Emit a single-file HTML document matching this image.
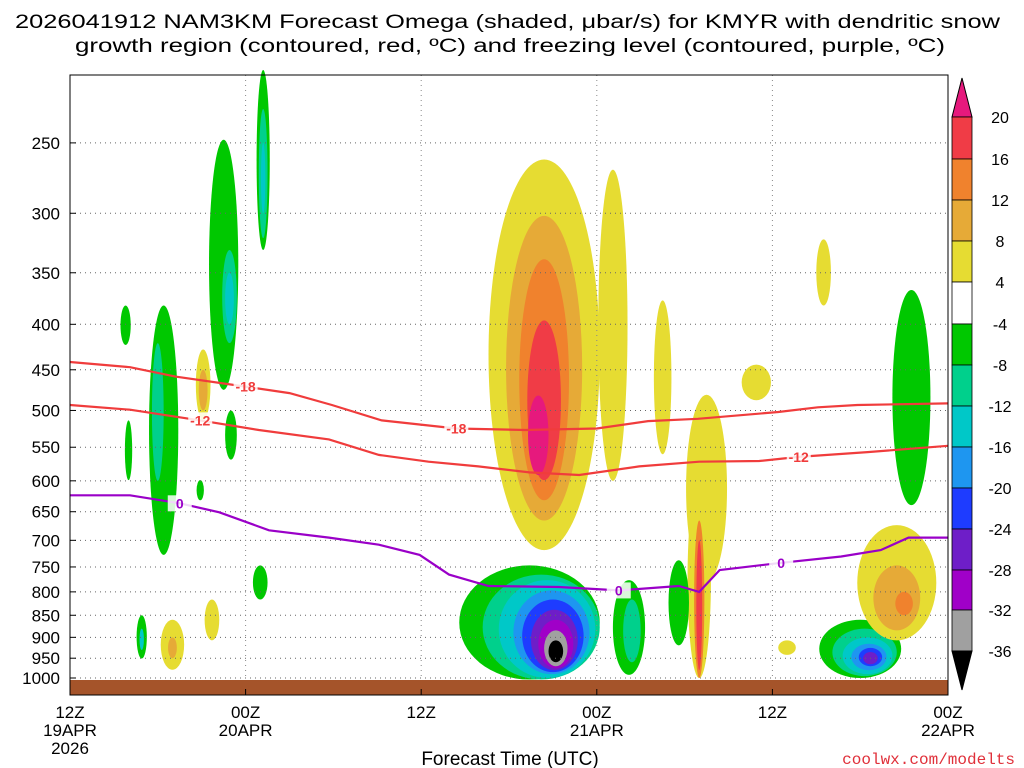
<!DOCTYPE html>
<html><head><meta charset="utf-8">
<style>
html,body{margin:0;padding:0;background:#fff;}
svg{display:block;font-family:"Liberation Sans",sans-serif;}
</style></head>
<body>
<svg id="chart" width="1024" height="768" viewBox="0 0 1024 768" xmlns="http://www.w3.org/2000/svg">
<text x="15" y="28" font-size="19" textLength="985" lengthAdjust="spacingAndGlyphs">2026041912 NAM3KM Forecast Omega (shaded, μbar/s) for KMYR with dendritic snow</text>
<text x="75" y="52" font-size="19" textLength="870" lengthAdjust="spacingAndGlyphs">growth region (contoured, red, ºC) and freezing level (contoured, purple, ºC)</text>
<g id="shade"></g>
<g id="grid"></g>
<rect x="70" y="680" width="878" height="15" fill="#a5542a"/>
<g id="contours"></g>
<rect x="70" y="75" width="878" height="620" fill="none" stroke="#000" stroke-width="1"/>
<g id="yaxis"></g>
<g id="xaxis"></g>
<text x="510" y="765" font-size="19" text-anchor="middle">Forecast Time (UTC)</text>
<text x="1015" y="764" font-size="16" fill="#e0303a" text-anchor="end" font-family="Liberation Mono, monospace">coolwx.com/modelts</text>
<g id="cbar"></g>
</svg>
<script>
const pressureTicks=[250,300,350,400,450,500,550,600,650,700,750,800,850,900,950,1000];
const timeTickHours=[0,12,24,36,48,60];
const timeTickTop=["12Z","00Z","12Z","00Z","12Z","00Z"];
const timeTickBottom=["19APR","20APR","","21APR","","22APR"];
const levelValues=[20,16,12,8,4,-4,-8,-12,-16,-20,-24,-28,-32,-36];
const levelColors={20:"#e6197d",16:"#f03c46",12:"#f0822d",8:"#e6aa37",4:"#e6dc32",0:"#ffffff","-4":"#00c800","-8":"#00d08c","-12":"#00c8c8","-16":"#1e96f0","-20":"#1e3cff","-24":"#6e1ec8","-28":"#a000c8","-32":"#a0a0a0","-36":"#000000"};
// blobs: [centerHour, halfWidthHours, topPressure, bottomPressure, level]
const blobHours=[32.4,37.1,32.4,32.4,32.4,32.0,40.5,43.5,43,43,43,
 31.4,32.2,32.6,32.9,33.0,33.1,33.2,33.2,33.2,
 38.2,38.4,41.6,
 54.0,54.3,54.5,54.6,54.7,54.7,
 56.5,56.5,57.0,57.5,51.5,46.9,49.0,
 6.4,6.0,3.8,4.0,10.5,10.9,10.9,13.2,13.2,13.2,11.0,8.9,9.1,9.1,13.0,7.0,7.0,9.7,4.9,4.9];
const blobHalfWidths=[3.8,1.0,2.6,1.7,1.15,0.7,0.6,1.4,0.8,0.35,0.2,
 4.8,4.0,3.3,2.6,2.1,1.6,1.2,0.8,0.5,
 1.1,0.6,0.7,
 2.8,2.2,1.7,1.2,0.8,0.5,
 2.7,1.6,0.6,1.3,0.5,1.0,0.6,
 1.0,0.4,0.35,0.25,1.0,0.5,0.3,0.45,0.3,0.15,0.4,0.25,0.5,0.3,0.5,0.8,0.3,0.5,0.35,0.15];
const blobTop=[261,268,302,338,396,481,376,480,600,665,700,
 747,765,776,797,816,838,860,884,907,
 776,816,737,
 860,880,900,915,925,935,
 673,747,800,366,321,444,907,
 381,420,381,513,248,330,350,207,229,250,500,599,427,450,747,860,900,816,850,880];
const blobBottom=[718,600,665,631,599,591,560,780,1000,1000,980,
 1004,1004,1000,990,985,980,975,970,960,
 992,960,919,
 1000,995,990,980,970,965,
 907,884,850,639,381,487,942,
 727,600,422,599,474,420,400,330,320,300,568,631,513,500,816,979,950,907,951,930];
const blobLevels=[4,4,8,12,16,20,4,4,4,12,16,
 -4,-8,-12,-16,-20,-24,-28,-32,-36,
 -4,-8,-4,
 -4,-8,-12,-16,-20,-24,
 4,8,12,-4,4,4,4,
 -4,-8,-4,-4,-4,-8,-12,-4,-8,-12,-4,-4,4,8,-4,4,8,4,-4,-12];
// contours: hours and pressures
const red18Hours=[0,4.1,7.2,12,15,17.9,21.3,26.4,31.1,36,39.5,42.9,48.4,51.1,53.8,60];
const red18Press=[441,447,458,470,478,493,513,524,526,524,514,511,502,496,493,491];
const red12Hours=[0,4.1,8.9,12.9,17.7,21.1,24.5,27.9,31.4,34.8,38.9,43.0,47.1,49.8,54.5,60];
const red12Press=[493,499,513,526,539,561,571,578,587,591,578,571,570,564,557,548];
const frz0Hours=[0,4.1,7.5,10.2,13.6,17.7,21.1,23.9,25.9,28.6,33.4,37.5,41.6,43.0,44.4,48.6,52.7,55.4,57.3,60];
const frz0Press=[623,623,636,651,682,695,708,727,765,788,790,797,788,800,756,742,730,718,695,695];

const X0=70,X1=948,YB=678,K=386;
const xs=h=>X0+(X1-X0)*h/60;
const ys=p=>YB-(Math.log(1000)-Math.log(p))*K;
const NS="http://www.w3.org/2000/svg";
function mk(tag,attrs,parent){const e=document.createElementNS(NS,tag);for(const k in attrs)e.setAttribute(k,attrs[k]);parent.appendChild(e);return e;}

const shade=document.getElementById('shade');
for(let i=0;i<blobHours.length;i++){
  const yt=ys(blobTop[i]),yb=ys(blobBottom[i]);
  const e=mk('ellipse',{cx:xs(blobHours[i]),cy:(yt+yb)/2,rx:(X1-X0)*blobHalfWidths[i]/60,ry:(yb-yt)/2,fill:levelColors[blobLevels[i]]},shade);
  
  
}

const grid=document.getElementById('grid'),yaxis=document.getElementById('yaxis');
pressureTicks.forEach(p=>{
  const y=ys(p);
  const l=mk('line',{x1:X0,x2:X1,y1:y,y2:y,stroke:"#666",'stroke-width':1,'stroke-dasharray':'1,4'},grid);
  
  
  const t=mk('text',{x:60,y:y+6,'font-size':17,'text-anchor':'end'},yaxis);
  t.textContent=p;
  
  
  mk('line',{x1:X0,x2:X0+6,y1:y,y2:y,stroke:"#000"},yaxis);
});
const xaxis=document.getElementById('xaxis');
timeTickHours.forEach((h,i)=>{
  const x=xs(h);
  if(i>0&&i<timeTickHours.length-1){
    const l=mk('line',{x1:x,x2:x,y1:75,y2:695,stroke:"#888",'stroke-width':1,'stroke-dasharray':'1,4'},grid);
    
    
  }
  mk('line',{x1:x,x2:x,y1:695,y2:689,stroke:"#000"},xaxis);
  const t=mk('text',{x:x,y:718,'font-size':17,'text-anchor':'middle'},xaxis);
  t.textContent=timeTickTop[i];
  
  
  if(timeTickBottom[i]){
    const t2=mk('text',{x:x,y:736,'font-size':17,'text-anchor':'middle'},xaxis);
    t2.textContent=timeTickBottom[i];
    
    
  }
});
const yr=mk('text',{x:70,y:754,'font-size':17,'text-anchor':'middle'},xaxis);
yr.textContent="2026";



const cont=document.getElementById('contours');
function drawLine(hs,ps,color,name,labels,labelText){
  const d=hs.map((h,i)=>(i?'L':'M')+xs(h).toFixed(1)+','+ys(ps[i]).toFixed(1)).join(' ');
  const p=mk('path',{d:d,fill:'none',stroke:color,'stroke-width':2.2},cont);
  
  
  labels.forEach(idx=>{
    const x=xs(hs[idx]),y=ys(ps[idx]);
    mk('rect',{x:x-12,y:y-8,width:24,height:16,fill:'#fff',opacity:0.85},cont);
    const t=mk('text',{x:x,y:y+5,'font-size':14,'font-weight':'bold','text-anchor':'middle',fill:color},cont);
    t.textContent=labelText;
    
    
  });
}
drawLine(red18Hours,red18Press,'#f03c3c','contour-minus18',[3,7],'-18');
drawLine(red12Hours,red12Press,'#f03c3c','contour-minus12',[2,13],'-12');
drawLine(frz0Hours,frz0Press,'#9a00c8','freezing-level',[2,11,15],'0');

const cb=document.getElementById('cbar');
const cbY=[117,159,200,241,282,324,365,406,447,488,529,570,610,651];
const cbX=952,cbW=20;
mk('polygon',{points:`${cbX},117 ${cbX+cbW},117 ${cbX+cbW/2},78`,fill:levelColors[20],stroke:'#000'},cb);
for(let i=0;i<cbY.length-1;i++){
  const lv=levelValues[i+1]; // box between tick i and i+1
  const colorKey=[16,12,8,4,0,-4,-8,-12,-16,-20,-24,-28,-32][i];
  const r=mk('rect',{x:cbX,y:cbY[i],width:cbW,height:cbY[i+1]-cbY[i],fill:levelColors[colorKey],stroke:'#000','stroke-width':0.8},cb);
  
  
}
mk('polygon',{points:`${cbX},651 ${cbX+cbW},651 ${cbX+cbW/2},690`,fill:'#000',stroke:'#000'},cb);
levelValues.forEach((v,i)=>{
  const t=mk('text',{x:1000,y:cbY[i]+6,'font-size':16,'text-anchor':'middle'},cb);
  t.textContent=v;
  
  
});
</script>
</body></html>
